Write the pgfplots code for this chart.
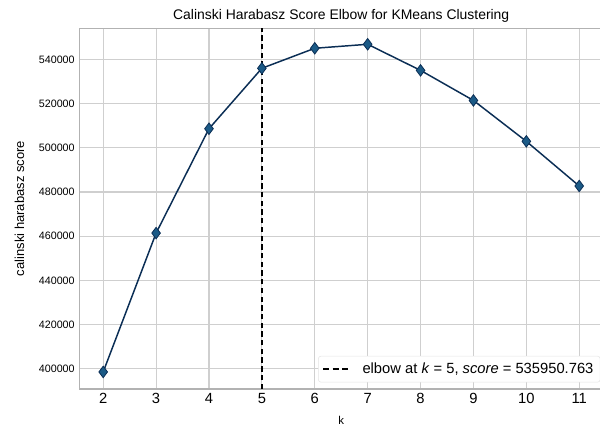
\documentclass[border=0pt]{standalone}
\usepackage{pgfplots}
\pgfplotsset{compat=1.18}
\usepackage{fontspec}
\setmainfont{Liberation Sans}
\definecolor{navy}{HTML}{0B2E55}
\definecolor{mk}{HTML}{1B5A86}
\definecolor{gridc}{HTML}{CFCFCF}
\begin{document}
\begin{tikzpicture}
\begin{axis}[
  scale only axis,
  width=390.75pt, height=269.25pt,
  xmin=1.55, xmax=11.45,
  ymin=390900, ymax=554100,
  xtick={2,...,11},
  ytick={400000,420000,...,540000},
  grid=major,
  major grid style={gridc, line width=0.8pt},
  axis line style={gray!60, line width=0.8pt},
  tick style={draw=none},
  scaled y ticks=false,
  /pgf/number format/assume math mode=true,
  yticklabel style={font=\fontsize{8}{10}\selectfont, /pgf/number format/fixed, /pgf/number format/1000 sep={}},
  xticklabel style={font=\fontsize{11}{13}\selectfont},
  title={Calinski Harabasz Score Elbow for KMeans Clustering},
  title style={font=\fontsize{10.4}{12}\selectfont, yshift=-5pt},
  xlabel={k}, ylabel={calinski harabasz score},
  xlabel style={font=\fontsize{8.5}{9}\selectfont, yshift=-2pt},
  ylabel style={font=\fontsize{9.7}{11}\selectfont, yshift=4pt},
  legend style={at={(0.995,0.018)}, anchor=south east, draw=gray!20, rounded corners=2pt, font=\fontsize{11}{13}\selectfont, inner sep=3pt},
  legend image code/.code={\draw[#1, line width=1.5pt, dash pattern=on 4.5pt off 2.5pt] (0cm,0cm) -- (0.72cm,0cm);},
  legend cell align=left,
]
\addplot[navy, line width=1.1pt, mark=diamond*, mark size=4.3pt, mark options={fill=mk, draw=navy, line width=0.6pt}, forget plot]
coordinates {(2,398600) (3,461400) (4,508600) (5,535951) (6,545000) (7,546800) (8,535000) (9,521400) (10,502900) (11,482700)};
\addplot[black, line width=1.1pt, dash pattern=on 4pt off 2.5pt] coordinates {(5,390900) (5,554100)};
\addlegendentry{\hspace{6pt}elbow at \textit{k} = 5, \textit{score} = 535950.763}
\end{axis}
\pgfresetboundingbox
\path[use as bounding box] ([xshift=-59.25pt, yshift=-29.25pt]current axis.south west) rectangle ([xshift=-2.25pt, yshift=21pt]current axis.north east);
\end{tikzpicture}
\end{document}
